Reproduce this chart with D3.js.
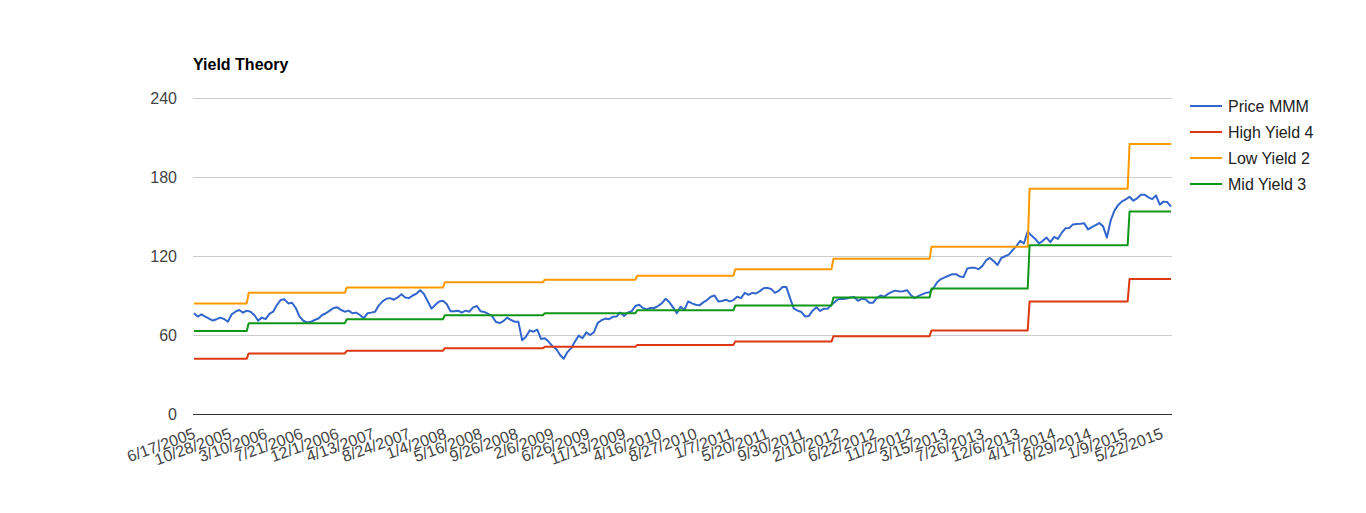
<!DOCTYPE html>
<html><head><meta charset="utf-8">
<script src="https://cdn.jsdelivr.net/npm/d3@7"></script>
<style>
html,body{margin:0;padding:0;background:#fff;}
text{font-family:Arial,"Liberation Sans",sans-serif;}
</style></head>
<body><svg id="c" width="1366" height="513"></svg>
<script>
// ---- data ----
const title = "Yield Theory";
const seriesNames = ["Price MMM","High Yield 4","Low Yield 2","Mid Yield 3"];
const seriesColors = ["#3366cc","#dc3912","#ff9900","#109618"];
const weekCount = 519; // weekly categories, 6/17/2005 onward
const tickEvery = 19;
const xTickLabels = ["6/17/2005","10/28/2005","3/10/2006","7/21/2006","12/1/2006","4/13/2007","8/24/2007","1/4/2008","5/16/2008","9/26/2008","2/6/2009","6/26/2009","11/13/2009","4/16/2010","8/27/2010","1/7/2011","5/20/2011","9/30/2011","2/10/2012","6/22/2012","11/2/2012","3/15/2013","7/26/2013","12/6/2013","4/17/2014","8/29/2014","1/9/2015","5/22/2015"];
const yTicks = [0,60,120,180,240];
// price, sampled every 2nd week
const priceBiweekly = [
76.5,74,75.7,74,72.5,71,72,73.2,72.2,70.1,75.7,77.7,79,77,78.5,77.7,75.2,70.9,73.2,72,
76,77.7,82.8,86.6,87.1,84,84.5,80.5,74,70.8,69.5,70,71.4,72.5,75.2,76.5,78.5,80.5,81,79,
77.7,78.5,76.5,77,75.2,72.7,76.5,77,77.7,82.5,85.5,87.5,88,86.8,88.5,90.9,88.5,88,90,91.5,
94,91,85.5,80,83,85.5,
86,83.5,78,78,78.5,77,78.5,77.7,81,82,78,77.5,76,74.5,70.1,69,70.5,73.2,71.4,70.1,
70,56,58.7,63.5,62.5,64,57,57.5,55,51.6,49.5,45,42,47,50,55,59.5,57.5,62,60,
62,69,71.2,72.5,72,73.8,74,77,74.5,77,78,82,83,80.5,79.5,80.5,80.5,82,84,87.5,
85,81,76.5,81.5,
79,85.5,84,83,82.5,84.8,86.5,89.1,90,85.5,85.8,86.8,85.5,86.5,89,88,92,90.5,92,91.5,
93.3,95.5,95.8,95,92,93.5,96.5,96.5,88,80,78.5,77.5,74,74.5,78.5,81,78.3,80,80,83,
85.5,87.5,87.3,87.7,88.5,88.8,86,87.5,87.1,84.5,84.5,88,90,89,91.3,92.8,93.7,93.1,93.2,94,
90.4,88,89.5,90.8,92,92.5,
95.5,100,102.5,103.8,105,106.2,106.2,104.5,104,110.6,111,111,110,112.5,116.8,118.5,116,113.2,118.5,119.8,
121,124.5,127.5,131.5,129.5,138.5,135.5,133,129.5,131.5,134,130.5,134.5,133,137.5,141,141.2,144,144.3,144.5,
144.8,140.2,142,143.5,145,142.5,134,147,154.5,158.8,161.5,163,165,162,163.8,166.5,166.5,164.5,163.2,166,
159,161.3,161,157.5
];
// yearly yield levels, each starting at the given week
const stepStartWeek = [0,29,81,133,186,235,287,339,391,443,496];
const highYield4 = [42,46,48,50,51,52.5,55,59,63.5,85.5,102.5];
const lowYield2  = [84,92,96,100,102,105,110,118,127,171,205];
const midYield3  = [63,69,72,75,76.5,78.75,82.5,88.5,95.25,128.25,153.75];

// ---- chart ----
const svg = d3.select("#c");
const L=193, R=1172, T=98, B=414;
const FS = 16;
const x = d3.scalePoint().domain(d3.range(weekCount)).range([L,R]).padding(0.5);
const y = d3.scaleLinear().domain([0,240]).range([B,T]);

svg.append("text").attr("x",L).attr("y",70).attr("font-size",FS).attr("font-weight","bold")
  .attr("fill","#000").text(title);

// gridlines
svg.append("g").selectAll("line").data(yTicks.filter(d=>d!==0)).join("line")
  .attr("x1",L).attr("x2",R).attr("y1",d=>y(d)).attr("y2",d=>y(d))
  .attr("stroke","#cccccc").attr("stroke-width",1).attr("shape-rendering","crispEdges");

// y labels
svg.append("g").selectAll("text").data(yTicks).join("text")
  .attr("x",177).attr("y",d=>y(d)).attr("dy","0.35em").attr("text-anchor","end")
  .attr("font-size",FS).attr("fill","#444").text(d=>d);

// x labels
const tickIdx = xTickLabels.map((s,k)=>k*tickEvery);
svg.append("g").selectAll("text").data(xTickLabels).join("text")
  .attr("text-anchor","end").attr("font-size",FS).attr("fill","#444")
  .attr("transform",(d,k)=>`translate(${x(tickIdx[k])+2.5},${438}) rotate(-20)`)
  .text(d=>d);

// series
function stepSeries(levels){
  return d3.range(weekCount).map(i=>{
    const s = d3.bisectRight(stepStartWeek,i)-1;
    return [i, levels[s]];
  });
}
const priceData = priceBiweekly.map((v,k)=>[k*2,v]);
const allSeries = [priceData, stepSeries(highYield4), stepSeries(lowYield2), stepSeries(midYield3)];
const line = d3.line().x(d=>x(d[0])).y(d=>y(d[1]));
svg.append("g").selectAll("path").data(allSeries).join("path")
  .attr("d",line).attr("fill","none").attr("stroke",(d,i)=>seriesColors[i])
  .attr("stroke-width",2).attr("stroke-linejoin","round");

// baseline
svg.append("line").attr("x1",L).attr("x2",R).attr("y1",y(0)).attr("y2",y(0))
  .attr("stroke","#333").attr("stroke-width",1).attr("shape-rendering","crispEdges");

// legend
const lg = svg.append("g").selectAll("g").data(seriesNames).join("g")
  .attr("transform",(d,i)=>`translate(1190,${106+i*26})`);
lg.append("line").attr("x1",0).attr("x2",32).attr("y1",0).attr("y2",0)
  .attr("stroke",(d,i)=>seriesColors[i]).attr("stroke-width",2);
lg.append("text").attr("x",38).attr("dy","0.35em").attr("font-size",FS).attr("fill","#222").text(d=>d);
</script></body></html>
